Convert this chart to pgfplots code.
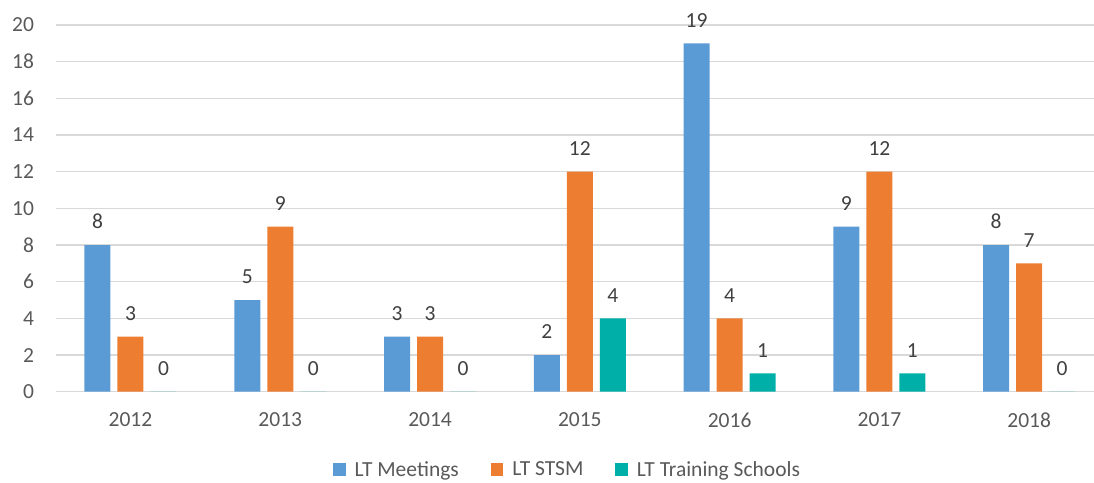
\documentclass[border=0pt]{standalone}
\usepackage{pgfplots}
\pgfplotsset{compat=1.18}
\usepackage{fontspec}
\setmainfont{Carlito}
\definecolor{cblue}{HTML}{5B9BD5}
\definecolor{corange}{HTML}{ED7D31}
\definecolor{cteal}{HTML}{00B0A8}
\definecolor{cgrid}{HTML}{D9D9D9}
\definecolor{ctick}{HTML}{595959}
\definecolor{clabel}{HTML}{404040}
\newcommand{\cfont}{\fontsize{21.5}{24}\selectfont}
\begin{document}
\begin{tikzpicture}
\useasboundingbox (-55.6pt,-90.3pt) rectangle (1038.4pt,391.7pt);
\begin{axis}[
  at={(0pt,0pt)}, anchor=south west,
  scale only axis,
  width=1038.4pt, height=366.7pt,
  ybar=7pt, bar width=26pt,
  xmin=-0.5, xmax=6.433,
  ymin=0, ymax=20,
  ytick={0,2,...,20},
  xtick=data,
  xticklabels={2012,2013,2014,2015,2016,2017,2018},
  axis x line*=bottom, axis y line*=left,
  y axis line style={draw=none},
  x axis line style={draw=cgrid, line width=1.2pt},
  major tick length=0pt,
  ymajorgrids,
  grid style={draw=cgrid, line width=1.2pt},
  /pgf/number format/assume math mode=true,
  yticklabel style={font=\cfont, text=ctick, inner sep=0pt, xshift=-21.5pt},
  xticklabel style={font=\cfont, text=ctick, inner sep=0pt, yshift=-21pt},
  nodes near coords,
  every node near coord/.append style={font=\cfont, text=clabel, inner sep=0pt, anchor=south, yshift=16pt},
  clip=false,
  legend style={at={(0.493,-0.2127)}, anchor=center, draw=none, font=\cfont, text=ctick,
    legend columns=-1, inner sep=0pt,
    /tikz/every odd column/.append style={column sep=7pt},
    /tikz/every even column/.append style={column sep=30pt}},
  legend cell align=left,
  legend image code/.code={\fill[#1] (0pt,-6pt) rectangle (12.5pt,6.5pt);},
]
\addplot[fill=cblue, draw=none] coordinates {(0,8) (1,5) (2,3) (3,2) (4,19) (5,9) (6,8)};
\addplot[fill=corange, draw=none] coordinates {(0,3) (1,9) (2,3) (3,12) (4,4) (5,12) (6,7)};
\addplot[fill=cteal, draw=none] coordinates {(0,0) (1,0) (2,0) (3,4) (4,1) (5,1) (6,0)};
\legend{LT Meetings, LT STSM, LT Training Schools}
\end{axis}
\end{tikzpicture}
\end{document}
